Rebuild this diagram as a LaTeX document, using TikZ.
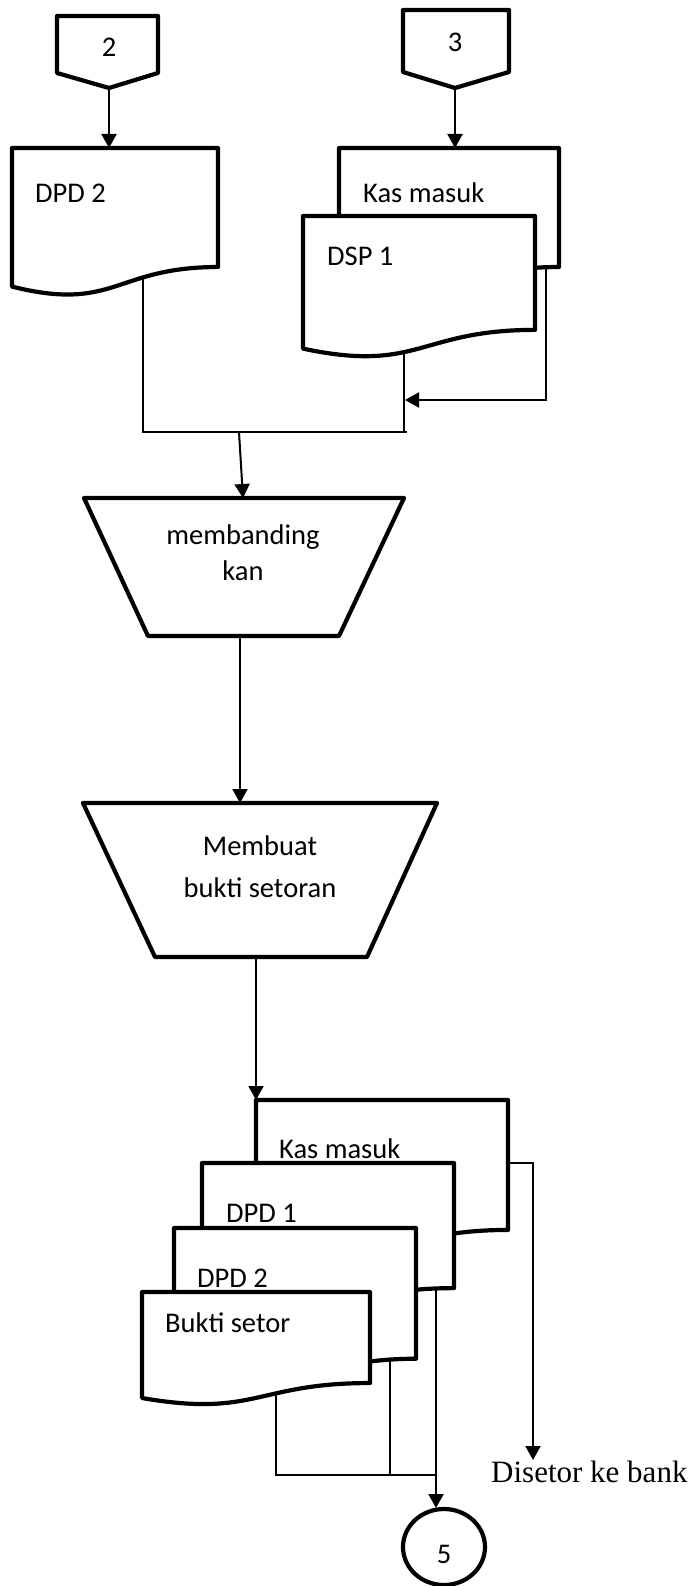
\documentclass[tikz,border=0pt]{standalone}
\usepackage{fontspec}
\setmainfont{Carlito}
\newfontfamily\seriffont{Liberation Serif}
\usetikzlibrary{arrows.meta}
\pgfdeclarelayer{bg}
\pgfsetlayers{bg,main}
\tikzset{
  shapeline/.style={line width=4.2pt, line join=round, fill=white},
  arrowline/.style={line width=2pt, -{Triangle[length=14pt,width=15pt]}},
  plainline/.style={line width=1.4pt},
  lbl/.style={inner sep=0pt, font=\fontsize{28.5}{34}\selectfont},
  serlbl/.style={inner sep=0pt, font=\seriffont\fontsize{31}{36}\selectfont},
}
% document symbol: x0, y0, x1, h
\newcommand\docshape[4]{%
  \draw[shapeline] (#1,#2) -- (#3,#2) -- (#3,{#2+0.802*#4})
    .. controls ({(#1+#3)/2},{#2+0.802*#4}) and ({(#1+#3)/2},{#2+1.1075*#4}) ..
    (#1,{#2+0.934*#4}) -- cycle;}
\begin{document}
\begin{tikzpicture}[x=1pt,y=-1pt]
\useasboundingbox (0,0) rectangle (699,1586);
\begin{pgfonlayer}{bg}
\fill[white] (0,0) rectangle (699,1586);
\end{pgfonlayer}

% ---------- named connection points ----------
\coordinate (c2-out) at (109,88);
\coordinate (c3-out) at (455,88);
\coordinate (dpd2t-in) at (109,148);
\coordinate (kast-in) at (455,148);
\coordinate (dpd2t-out) at (143,275);
\coordinate (kast-out) at (546,262);
\coordinate (kast-turn) at (546,400);
\coordinate (dsp1-out) at (404,345);
\coordinate (dsp1-hit) at (405,400);
\coordinate (joinL) at (143,432);
\coordinate (joinR) at (404,432);
\coordinate (joinEnd) at (407,432);
\coordinate (joinM) at (239,432);
\coordinate (tr1-in) at (243,498);
\coordinate (tr1-out) at (240,636);
\coordinate (tr2-in) at (240,803);
\coordinate (tr2-out) at (256,957);
\coordinate (kasb-in) at (256,1100);
\coordinate (kasb-out) at (500,1163);
\coordinate (kasb-turn) at (533,1163);
\coordinate (bank-in) at (533,1460);
\coordinate (dpd1-out) at (436,1280);
\coordinate (dpd2b-out) at (390,1350);
\coordinate (bukti-out) at (276,1390);
\coordinate (bukti-join) at (276,1475);
\coordinate (dpd2b-join) at (390,1475);
\coordinate (main-join) at (436,1475);
\coordinate (c5-in) at (436,1508);

% ---------- connectors (behind shapes) ----------
\begin{pgfonlayer}{bg}
\draw[arrowline] (c2-out) -- (dpd2t-in);
\draw[arrowline] (c3-out) -- (kast-in);
\draw[plainline] (dpd2t-out) -- (joinL) -- (joinEnd);
\draw[plainline] (dsp1-out) -- (joinR);
\draw[arrowline] (kast-out) -- (kast-turn) -- (dsp1-hit);
\draw[arrowline] (joinM) -- (tr1-in);
\draw[arrowline] (tr1-out) -- (tr2-in);
\draw[arrowline] (tr2-out) -- (kasb-in);
\draw[arrowline] (kasb-out) -- (kasb-turn) -- (bank-in);
\draw[plainline] (bukti-out) -- (bukti-join) -- (main-join);
\draw[plainline] (dpd2b-out) -- (dpd2b-join);
\draw[arrowline] (dpd1-out) -- (c5-in);
\end{pgfonlayer}

% ---------- off-page connectors ----------
\draw[shapeline] (57,16) -- (158,16) -- (158,73) -- (109,88) -- (57,73) -- cycle;
\node[lbl, anchor=base] (c2) at (109,57) {2};
\draw[shapeline] (403,10) -- (509,10) -- (509,72) -- (455,88) -- (403,72) -- cycle;
\node[lbl, anchor=base] (c3) at (455,52) {3};

% ---------- top documents ----------
\docshape{12}{148}{218}{148.4}
\node[lbl, anchor=base west] (dpd2t) at (35,203) {DPD 2};
\docshape{339}{148}{559}{148.4}
\node[lbl, anchor=base west] (kast) at (363,203) {Kas masuk};
\docshape{303}{216}{535}{142}
\node[lbl, anchor=base west] (dsp1) at (327,266) {DSP 1};

% ---------- manual operations ----------
\draw[shapeline] (84,498) -- (404,498) -- (339,636) -- (148,636) -- cycle;
\node[lbl, anchor=base] (tr1a) at (243,544) {membanding};
\node[lbl, anchor=base] (tr1b) at (243,580) {kan};
\draw[shapeline] (83,803) -- (437,803) -- (367,957) -- (155,957) -- cycle;
\node[lbl, anchor=base] (tr2a) at (260,855) {Membuat};
\node[lbl, anchor=base] (tr2b) at (260,897) {bukti setoran};

% ---------- bottom document stack ----------
\docshape{256}{1100}{508}{162}
\node[lbl, anchor=base west] (kasb) at (279,1158) {Kas masuk};
\docshape{202}{1163}{454}{156}
\node[lbl, anchor=base west] (dpd1) at (226,1222) {DPD 1};
\docshape{174}{1228}{416}{163}
\node[lbl, anchor=base west] (dpd2b) at (197,1287) {DPD 2};
\docshape{142}{1292}{370}{113.5}
\node[lbl, anchor=base west] (bukti) at (165,1332) {Bukti setor};

% ---------- terminal texts ----------
\node[serlbl, anchor=base west] (bank) at (491,1482) {Disetor ke bank};
\draw[line width=4.2pt] (444,1547) ellipse [x radius=41, y radius=38];
\node[lbl, anchor=base] (c5) at (444,1563) {5};
\end{tikzpicture}
\end{document}
